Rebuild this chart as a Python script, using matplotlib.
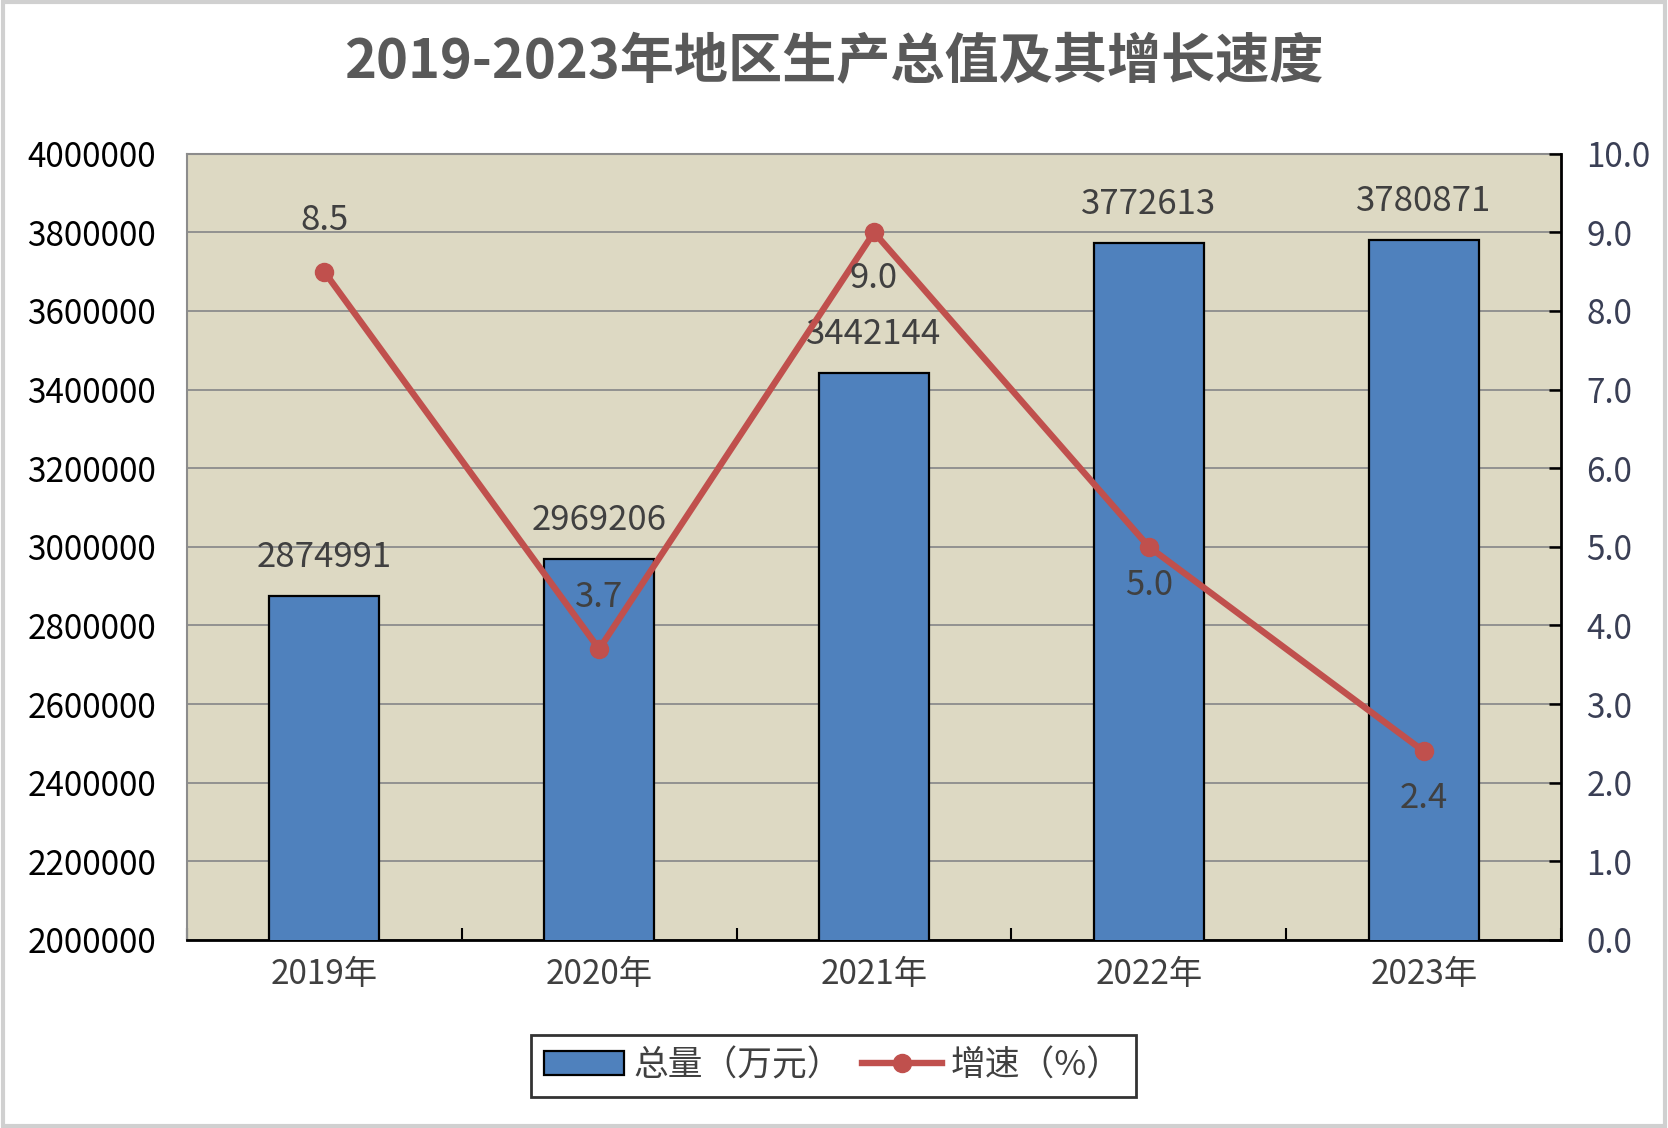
import matplotlib.pyplot as plt
from matplotlib.patches import Rectangle, Patch
from matplotlib.lines import Line2D
from matplotlib.ticker import MultipleLocator, FormatStrFormatter, StrMethodFormatter

plt.rcParams['font.family'] = ['Noto Sans CJK SC', 'DejaVu Sans']

# data
years = ['2019年', '2020年', '2021年', '2022年', '2023年']
totals = [2874991, 2969206, 3442144, 3772613, 3780871]
growth = [8.5, 3.7, 9.0, 5.0, 2.4]

title = '2019-2023年地区生产总值及其增长速度'
bar_name = '总量（万元）'
line_name = '增速（%）'

bar_color = '#4F81BD'
line_color = '#C0504D'
bg_color = '#DDD9C3'
text_color = '#404040'

fig = plt.figure(figsize=(16.68, 11.28), dpi=100)
ax = fig.add_axes([0.112, 0.1667, 0.824, 0.697])
ax.set_facecolor(bg_color)

x = list(range(len(years)))
ax.bar(x, totals, width=0.4, color=bar_color, edgecolor='black', linewidth=1.6, zorder=3)
ax.set_xlim(-0.5, len(years) - 0.5)
ax.set_ylim(2000000, 4000000)
ax.yaxis.set_major_locator(MultipleLocator(200000))
ax.yaxis.set_major_formatter(StrMethodFormatter('{x:.0f}'))
ax.grid(axis='y', color='#8C8C8C', linewidth=1.3, zorder=0)
ax.set_axisbelow(True)

ax.set_xticks(x)
ax.set_xticklabels(years, fontsize=24, color=text_color)
ax.set_xticks([i + 0.5 for i in range(-1, len(years))], minor=True)
ax.tick_params(axis='x', which='major', length=0, pad=12)
ax.tick_params(axis='x', which='minor', direction='in', length=9, width=1.5, color='black')
ax.tick_params(axis='y', length=0, labelsize=24, pad=22, labelcolor='black')

for side in ['top', 'left']:
    ax.spines[side].set_color('#8C8C8C')
    ax.spines[side].set_linewidth(1.5)
ax.spines['bottom'].set_color('black')
ax.spines['bottom'].set_linewidth(2)
ax.spines['right'].set_visible(False)

# bar value labels
for xi, v in zip(x, totals):
    ax.annotate(str(v), (xi, v), xytext=(0, 15), textcoords='offset points',
                ha='center', va='bottom', fontsize=25, color=text_color, zorder=5)

# growth line on the right axis
ax2 = ax.twinx()
ax2.plot(x, growth, color=line_color, linewidth=4.6, marker='o', markersize=13, zorder=4)
ax2.set_ylim(0, 10)
ax2.yaxis.set_major_locator(MultipleLocator(1))
ax2.yaxis.set_major_formatter(FormatStrFormatter('%.1f'))
ax2.tick_params(axis='y', direction='in', length=9, width=1.8, labelsize=24,
                labelcolor='#3A3F55', pad=18)
for side in ['top', 'left', 'bottom']:
    ax2.spines[side].set_visible(False)
ax2.spines['right'].set_color('black')
ax2.spines['right'].set_linewidth(2)

# label above (+) or below (-) each point, in points
label_offsets = [37, 37, -33, -28, -34]
for xi, g, off in zip(x, growth, label_offsets):
    ax2.annotate(f'{g:.1f}', (xi, g), xytext=(0, off), textcoords='offset points',
                 ha='center', va='center', fontsize=25, color=text_color, zorder=6)

fig.text(0.5, 0.944, title, ha='center', va='center', fontsize=39,
         fontweight='bold', color='#595959')

handles = [Patch(facecolor=bar_color, edgecolor='black', linewidth=1.6),
           Line2D([0], [0], color=line_color, linewidth=4.6, marker='o', markersize=13)]
leg = fig.legend(handles, [bar_name, line_name], loc='center', bbox_to_anchor=(0.4995, 0.055),
                 ncol=2, fontsize=25, frameon=True, fancybox=False, handlelength=2.3,
                 handletextpad=0.25, columnspacing=0.6, borderpad=0.4)
leg.get_frame().set_edgecolor('black')
leg.get_frame().set_linewidth(2)
for t in leg.get_texts():
    t.set_color(text_color)

fig.patches.append(Rectangle((0.002, 0.002), 0.996, 0.996, transform=fig.transFigure,
                             fill=False, edgecolor='#D0D0D0', linewidth=3))

fig.savefig('out.png', dpi=100)
